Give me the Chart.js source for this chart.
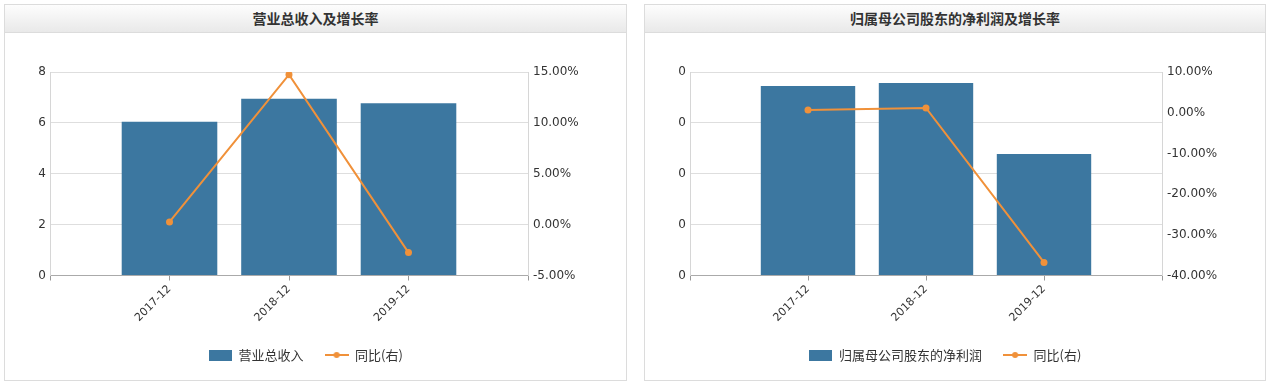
<!DOCTYPE html>
<html>
<head>
<meta charset="utf-8">
<script src="https://cdn.jsdelivr.net/npm/chart.js@4.4.1/dist/chart.umd.min.js"></script>
<style>
  html, body { margin: 0; padding: 0; background: #ffffff; }
  body { width: 1274px; height: 385px; position: relative; overflow: hidden; }
  .panel { position: absolute; top: 4px; height: 375px; border: 1px solid #dcdcdc; background: #fff; }
  .head { height: 27px; border-bottom: 1px solid #dcdcdc;
          background: linear-gradient(#fdfdfd, #e9e9e9);
          text-align: center; line-height: 27px;
          font-family: "Noto Sans CJK SC", sans-serif; font-size: 14px; font-weight: bold; color: #333; }
  canvas { display: block; }
</style>
</head>
<body>
<div class="panel" style="left:4px;width:621px;">
  <div class="head">营业总收入及增长率</div>
  <canvas id="c1" width="621" height="347"></canvas>
</div>
<div class="panel" style="left:644px;width:620px;">
  <div class="head">归属母公司股东的净利润及增长率</div>
  <canvas id="c2" width="620" height="347"></canvas>
</div>
<script>
// ---- data ----
const categories = ['2017-12', '2018-12', '2019-12'];
const revenue = [6.04, 6.95, 6.77];
const revenueYoY = [0.26, 14.74, -2.75];
const netProfit = [0.0745, 0.0757, 0.0478];
const netProfitYoY = [0.69, 1.18, -36.8];
const revenueAxis = [0, 8, 2];          // min, max, step
const revenueYoYAxis = [-5, 15, 5];
const profitAxis = [0, 0.08, 0.02];
const profitYoYAxis = [-40, 10, 10];
const legendNames1 = ['营业总收入', '同比(右)'];
const legendNames2 = ['归属母公司股东的净利润', '同比(右)'];

const BAR = '#3c77a0';
const LINE = '#f0913a';

Chart.defaults.font.family = 'DejaVu Sans';
Chart.defaults.color = '#333';

function boxImg() {
  const c = document.createElement('canvas'); c.width = 23; c.height = 11;
  const g = c.getContext('2d'); g.fillStyle = BAR; g.fillRect(0, 0, 23, 11); return c;
}
function lineImg() {
  const c = document.createElement('canvas'); c.width = 24; c.height = 8;
  const g = c.getContext('2d');
  g.strokeStyle = LINE; g.lineWidth = 2;
  g.beginPath(); g.moveTo(0, 4); g.lineTo(24, 4); g.stroke();
  g.fillStyle = LINE; g.beginPath(); g.arc(12, 4, 3, 0, Math.PI * 2); g.fill();
  return c;
}
const legendImgs = [boxImg(), lineImg()];

function pad(arr) { return [null, ...arr, null]; }

function makeChart(id, names, bars, line, leftAxis, rightAxis, rightWidth) {
  const labels = ['', ...categories, ''];
  return new Chart(document.getElementById(id), {
    data: {
      labels: labels,
      datasets: [
        { type: 'bar', label: names[0], data: pad(bars), backgroundColor: BAR,
          yAxisID: 'y', categoryPercentage: 0.8, barPercentage: 1.0, order: 1 },
        { type: 'line', label: names[1], data: pad(line), borderColor: LINE, backgroundColor: LINE,
          borderWidth: 2, pointRadius: 3.5, pointBackgroundColor: LINE, pointBorderWidth: 0,
          tension: 0, yAxisID: 'y1', order: 0 }
      ]
    },
    options: {
      responsive: false, animation: false, devicePixelRatio: 1,
      layout: { padding: { top: 39, right: 20, bottom: 8.5, left: 0 } },
      plugins: {
        tooltip: { enabled: false },
        legend: {
          position: 'bottom',
          labels: {
            usePointStyle: true, pointStyleWidth: 24, boxHeight: 11, padding: 21,
            color: '#333',
            font: { family: '"Noto Sans CJK SC", sans-serif', size: 13 },
            sort: (a, b) => a.datasetIndex - b.datasetIndex,
            generateLabels: (chart) => {
              const items = Chart.defaults.plugins.legend.labels.generateLabels(chart);
              items.forEach(it => { it.pointStyle = legendImgs[it.datasetIndex]; });
              return items;
            }
          }
        }
      },
      scales: {
        x: {
          type: 'category', offset: false,
          grid: { offset: false, drawOnChartArea: false, drawTicks: true, tickLength: 5, color: '#999' },
          border: { display: true, color: '#aaa' },
          ticks: { autoSkip: false, maxRotation: 45, minRotation: 45, padding: 2,
                   font: { size: 11 }, color: '#333' },
          afterFit: (s) => { s.height = 52; }
        },
        y: {
          position: 'left', min: leftAxis[0], max: leftAxis[1],
          ticks: { stepSize: leftAxis[2], padding: 4, font: { size: 12 }, color: '#333',
                   callback: (v) => Number(v).toFixed(0) },
          grid: { color: '#dedede', drawTicks: false },
          border: { display: true, color: '#d6d6d6' },
          afterFit: (s) => { s.width = 45; }
        },
        y1: {
          position: 'right', min: rightAxis[0], max: rightAxis[1],
          ticks: { stepSize: rightAxis[2], padding: 5, font: { size: 12 }, color: '#333',
                   callback: (v) => Number(v).toFixed(2) + '%' },
          grid: { display: false, drawTicks: false },
          border: { display: true, color: '#d6d6d6' },
          afterFit: (s) => { s.width = rightWidth; }
        }
      }
    }
  });
}

makeChart('c1', legendNames1, revenue, revenueYoY, revenueAxis, revenueYoYAxis, 78);
makeChart('c2', legendNames2, netProfit, netProfitYoY, profitAxis, profitYoYAxis, 83);
</script>
</body>
</html>
